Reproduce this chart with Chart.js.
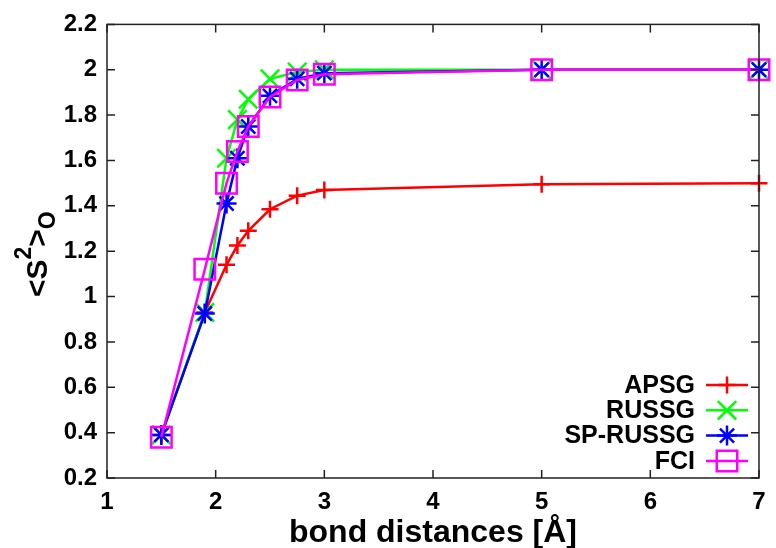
<!DOCTYPE html>
<html>
<head>
<meta charset="utf-8">
<script src="https://cdn.jsdelivr.net/npm/chart.js@4"></script>
<style>
  body { margin: 0; background: #fff; }
  canvas { display: block; }
</style>
</head>
<body>
<canvas id="chart" width="776" height="548"></canvas>
<script>
// bond distances (x) and <S^2> values
var distances = [1.5, 1.9, 2.1, 2.2, 2.3, 2.5, 2.75, 3, 5, 7];
var apsg     = [0.39, 0.93, 1.14, 1.225, 1.29, 1.385, 1.445, 1.47, 1.495, 1.5];
var russg    = [0.39, 0.93, 1.61, 1.78, 1.87, 1.96, 1.99, 2.0, 2.0, 2.0];
var spRussg  = [0.39, 0.925, 1.41, 1.61, 1.75, 1.885, 1.96, 1.985, 2.0, 2.0];
var fci      = [0.38, 1.12, 1.50, 1.64, 1.75, 1.88, 1.955, 1.98, 2.0, 2.0];
var seriesNames = ["APSG", "RUSSG", "SP-RUSSG", "FCI"];

var FONT = '"Liberation Sans", Arial, sans-serif';

function pairs(ys) {
	return distances.map(function(x, i) { return {x: x, y: ys[i]}; });
}

function makeSet(name, ys, color, style, radius, order) {
	return {
		label: name,
		data: pairs(ys),
		borderColor: color,
		pointBorderColor: color,
		pointBackgroundColor: "rgba(0,0,0,0)",
		borderWidth: 2.5,
		pointBorderWidth: 2.5,
		pointStyle: style,
		pointRadius: radius,
		pointHoverRadius: radius,
		tension: 0,
		clip: false,
		order: order
	};
}

//frame, inward ticks, y title and legend like gnuplot
var gnuplotLook = {
	id: "gnuplotLook",
	afterDraw: function(chart) {
		var ctx = chart.ctx;
		var a = chart.chartArea;
		var xs = chart.scales.x, ys = chart.scales.y;
		var tl = 8;

		ctx.save();
		ctx.strokeStyle = "#222";
		ctx.lineWidth = 1.5;
		ctx.strokeRect(a.left, a.top, a.right - a.left, a.bottom - a.top);

		ctx.beginPath();
		ys.ticks.forEach(function(t) {
			var py = ys.getPixelForValue(t.value);
			ctx.moveTo(a.left, py); ctx.lineTo(a.left + tl, py);
			ctx.moveTo(a.right, py); ctx.lineTo(a.right - tl, py);
		});
		xs.ticks.forEach(function(t) {
			var px = xs.getPixelForValue(t.value);
			ctx.moveTo(px, a.bottom); ctx.lineTo(px, a.bottom - tl);
			ctx.moveTo(px, a.top); ctx.lineTo(px, a.top + tl);
		});
		ctx.stroke();

		// y axis title <S^2>_O
		ctx.translate(47, 297);
		ctx.rotate(-Math.PI / 2);
		ctx.fillStyle = "#000";
		ctx.textAlign = "left";
		ctx.textBaseline = "alphabetic";
		var big = "bold 30px " + FONT, small = "bold 23px " + FONT;
		var cx = 0;
		ctx.font = big; ctx.fillText("<S", cx, 0); cx += ctx.measureText("<S").width;
		ctx.font = small; ctx.fillText("2", cx, -16); cx += ctx.measureText("2").width;
		ctx.font = big; ctx.fillText(">", cx, 0); cx += ctx.measureText(">").width;
		ctx.font = small; ctx.fillText("O", cx, 8);
		ctx.restore();

		// legend
		ctx.save();
		ctx.font = "bold 25px " + FONT;
		ctx.textAlign = "right";
		ctx.textBaseline = "middle";
		chart.data.datasets.forEach(function(ds, i) {
			var y = 385 + i * 25.3;
			ctx.fillStyle = "#000";
			ctx.fillText(ds.label, 695, y + 1);
			ctx.strokeStyle = ds.borderColor;
			ctx.lineWidth = ds.borderWidth;
			ctx.beginPath();
			ctx.moveTo(706, y); ctx.lineTo(748, y);
			ctx.stroke();
			ctx.fillStyle = "rgba(0,0,0,0)";
			Chart.helpers.drawPoint(ctx, {
				pointStyle: ds.pointStyle,
				radius: ds.pointRadius,
				rotation: 0,
				borderWidth: ds.pointBorderWidth
			}, 727, y);
		});
		ctx.restore();
	}
};

var chart = new Chart(document.getElementById("chart"), {
	type: "line",
	data: {
		datasets: [
			makeSet(seriesNames[0], apsg, "#ff0000", "cross", 8.5, 4),
			makeSet(seriesNames[1], russg, "#00ff00", "crossRot", 13, 3),
			makeSet(seriesNames[2], spRussg, "#0000ff", "star", 10, 2),
			makeSet(seriesNames[3], fci, "#ff00ff", "rect", 14.5, 1)
		]
	},
	options: {
		responsive: false,
		animation: false,
		devicePixelRatio: 1,
		layout: { padding: { top: 24, right: 10, left: 0, bottom: 0 } },
		plugins: { legend: { display: false }, tooltip: { enabled: false } },
		scales: {
			x: {
				type: "linear",
				min: 1, max: 7,
				afterFit: function(s) { s.height = 70; },
				grid: { display: false, drawTicks: false },
				border: { display: false },
				ticks: { stepSize: 1, padding: 10, color: "#000",
					font: { family: FONT, size: 24, weight: "bold" } },
				title: {
					display: true,
					text: "bond distances [Å]",
					color: "#000",
					padding: 0,
					font: { family: FONT, size: 32, weight: "bold", lineHeight: 0.9 }
				}
			},
			y: {
				min: 0.2, max: 2.2,
				afterFit: function(s) { s.width = 107; },
				grid: { display: false, drawTicks: false },
				border: { display: false },
				ticks: {
					stepSize: 0.2, padding: 10, color: "#000",
					font: { family: FONT, size: 24, weight: "bold" },
					callback: function(v) { return String(Number(v.toFixed(1))); }
				}
			}
		}
	},
	plugins: [gnuplotLook]
});
</script>
</body>
</html>
